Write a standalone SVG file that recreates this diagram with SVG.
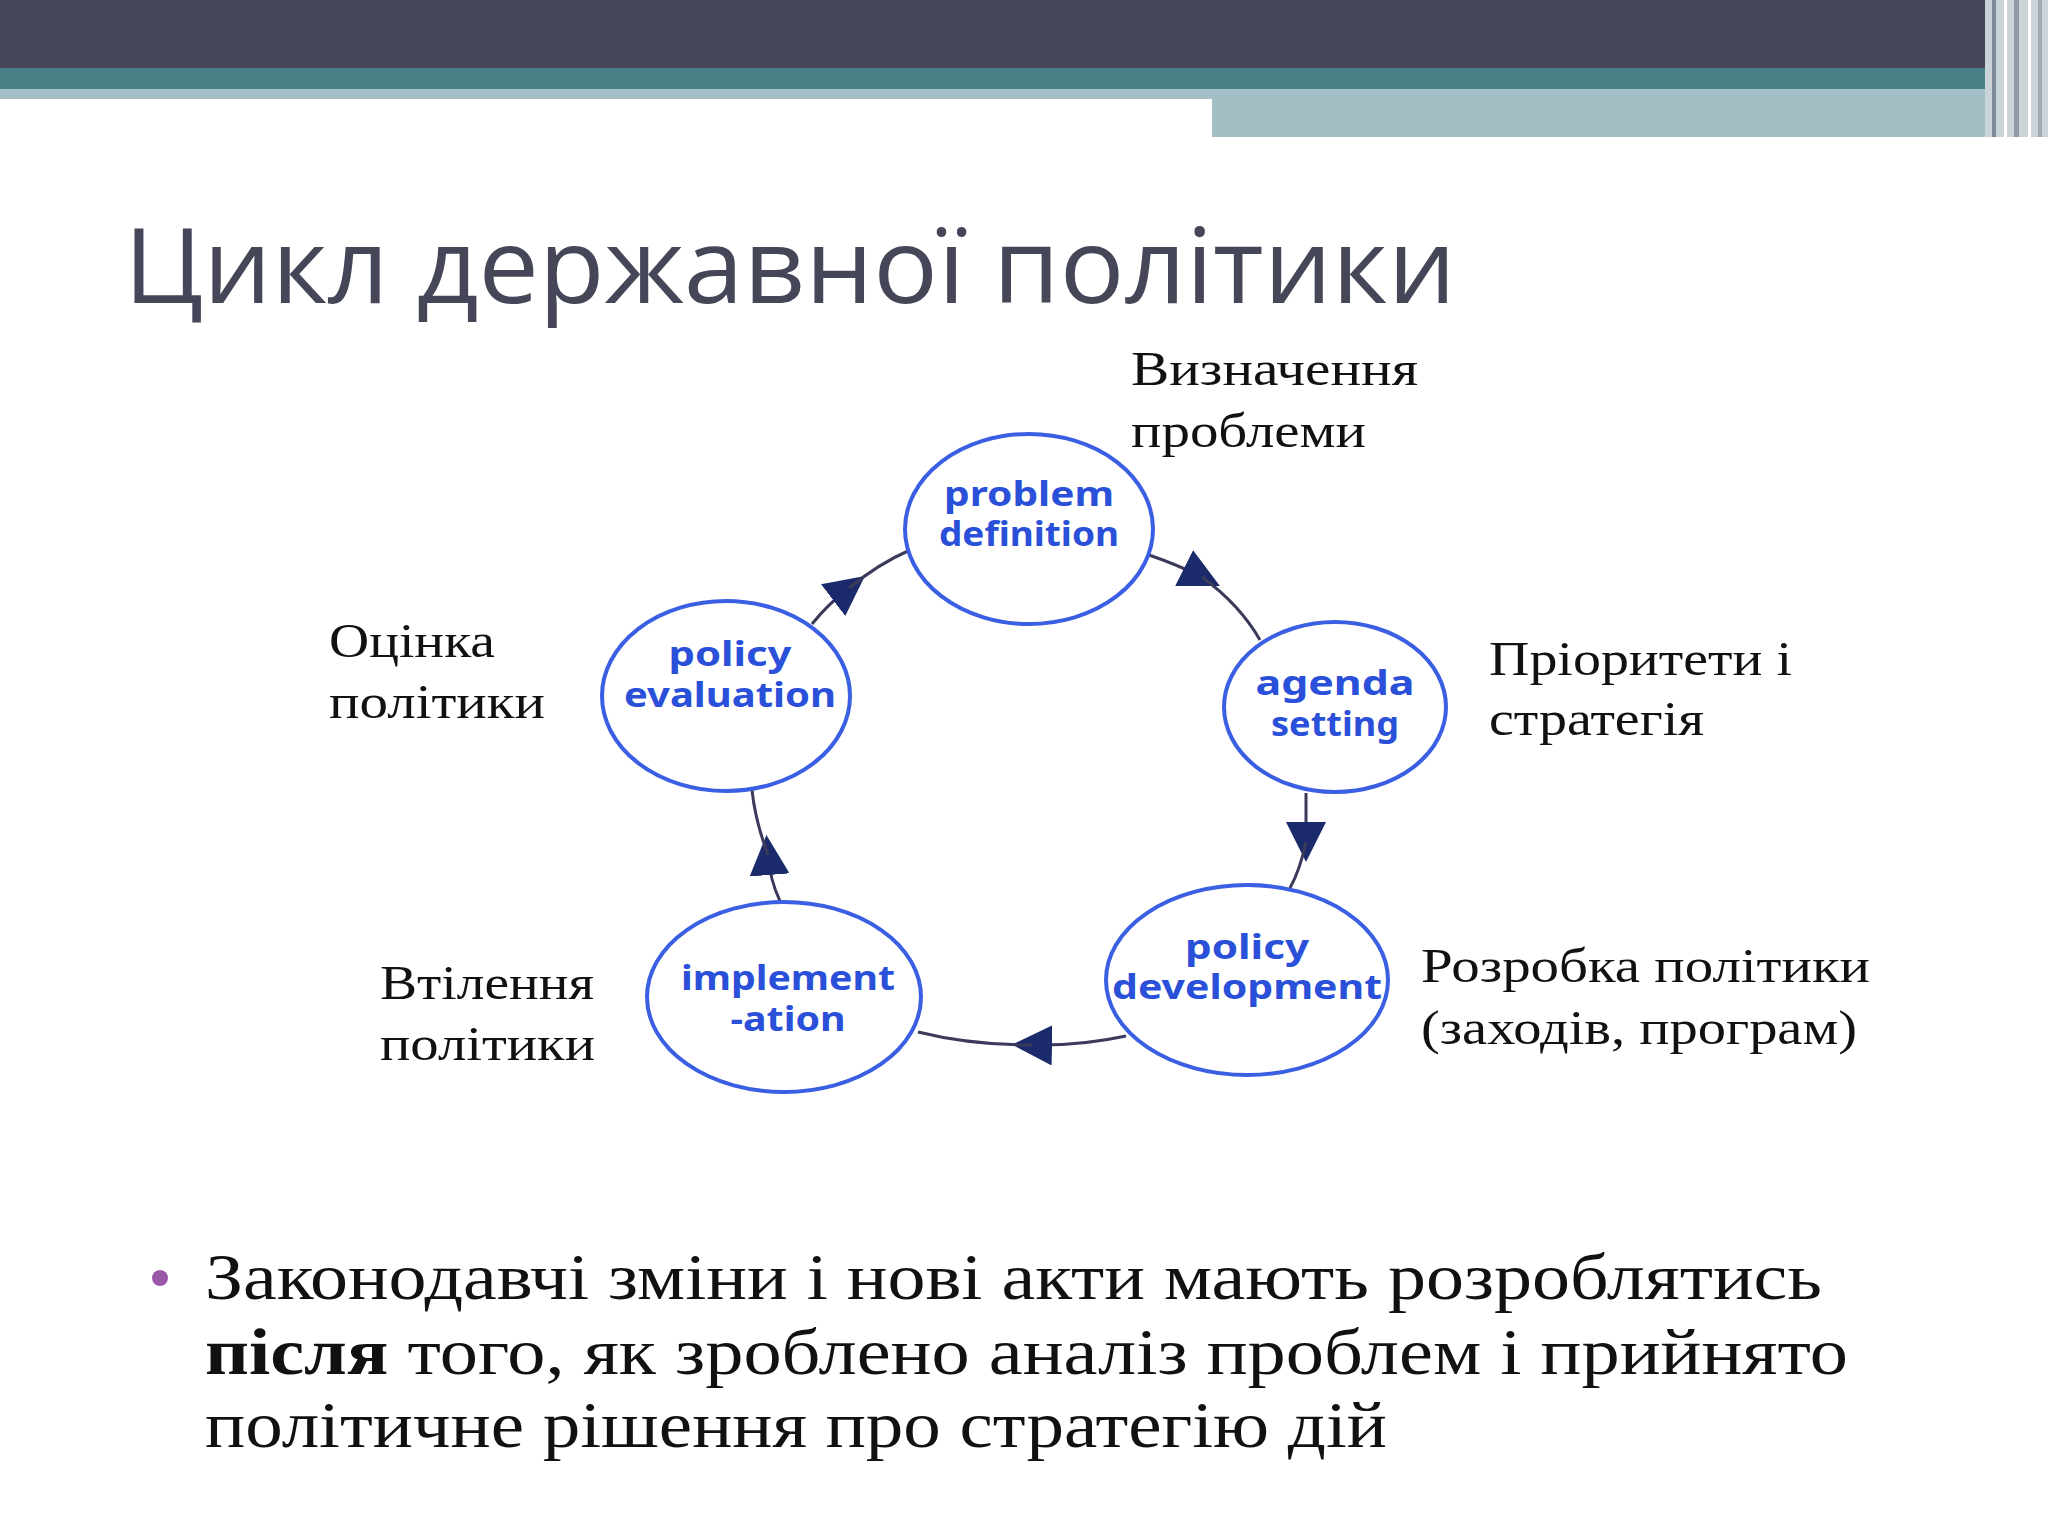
<svg xmlns="http://www.w3.org/2000/svg" width="2048" height="1536" viewBox="0 0 2048 1536">
<style>
.n{fill:#fff;stroke:#3b5fe2;stroke-width:4}
.nt{font-family:"Noto Sans",sans-serif;font-weight:bold;font-size:34px;fill:#2a4fd8;text-anchor:middle}
.lb{font-family:"Liberation Serif",serif;font-size:48px;fill:#111}
.c{fill:none;stroke:#3a3a5a;stroke-width:3}
</style>
<defs>
<marker id="b" viewBox="0 0 10 10" refX="5" refY="5" markerWidth="40" markerHeight="40" markerUnits="userSpaceOnUse" orient="auto"><path d="M0,0 L10,5 L0,10 z" fill="#1a2a6a"/></marker>
</defs>
<rect width="2048" height="1536" fill="#fff"/>
<rect x="0" y="0" width="2048" height="68" fill="#464659"/>
<rect x="0" y="68" width="1985" height="21" fill="#4a8088"/>
<rect x="0" y="89" width="1212" height="10" fill="#a3bfc5"/>
<rect x="1212" y="89" width="773" height="48" fill="#a3bfc5"/>
<rect x="1985" y="0" width="63" height="137" fill="#c9d3d8"/>
<rect x="1992" y="0" width="4" height="137" fill="#7d8a96"/>
<rect x="2004" y="0" width="3" height="137" fill="#fff"/>
<rect x="2014" y="0" width="5" height="137" fill="#8e9aa6"/>
<rect x="2028" y="0" width="3" height="137" fill="#fff"/>
<rect x="2038" y="0" width="4" height="137" fill="#a0abb6"/>
<text x="124" y="303" font-family="Open Sans, sans-serif" font-size="104" fill="#464659" textLength="1332" lengthAdjust="spacingAndGlyphs">Цикл державної політики</text>
<g id="connectors">
<path class="c" d="M1149,555 Q1178,565 1202,577" marker-end="url(#b)"/><path class="c" d="M1202,577 Q1240,605 1260,640"/>
<path class="c" d="M1306,793 L1306,842" marker-end="url(#b)"/><path class="c" d="M1306,842 Q1300,870 1290,888"/>
<path class="c" d="M1126,1036 Q1080,1046 1032,1045" marker-end="url(#b)"/><path class="c" d="M1032,1045 Q970,1045 918,1032"/>
<path class="c" d="M780,901 Q770,880 768,855" marker-end="url(#b)"/><path class="c" d="M768,855 Q755,820 752,790"/>
<path class="c" d="M812,624 Q828,604 849,588" marker-end="url(#b)"/><path class="c" d="M849,588 Q880,563 908,551"/>
</g>
<g id="problem"><ellipse class="n" cx="1029" cy="529" rx="124" ry="95"/><text class="nt" x="1029" y="506" textLength="170" lengthAdjust="spacingAndGlyphs">problem</text><text class="nt" x="1029" y="546" textLength="180" lengthAdjust="spacingAndGlyphs">definition</text></g>
<g id="agenda"><ellipse class="n" cx="1335" cy="707" rx="111" ry="85"/><text class="nt" x="1335" y="695" textLength="159" lengthAdjust="spacingAndGlyphs">agenda</text><text class="nt" x="1335" y="736" textLength="128" lengthAdjust="spacingAndGlyphs">setting</text></g>
<g id="development"><ellipse class="n" cx="1247" cy="980" rx="141" ry="95"/><text class="nt" x="1247" y="959" textLength="124" lengthAdjust="spacingAndGlyphs">policy</text><text class="nt" x="1247" y="999" textLength="270" lengthAdjust="spacingAndGlyphs">development</text></g>
<g id="implementation"><ellipse class="n" cx="784" cy="997" rx="137" ry="95"/><text class="nt" x="788" y="990" textLength="214" lengthAdjust="spacingAndGlyphs">implement</text><text class="nt" x="788" y="1031" textLength="115" lengthAdjust="spacingAndGlyphs">-ation</text></g>
<g id="evaluation"><ellipse class="n" cx="726" cy="696" rx="124" ry="95"/><text class="nt" x="730" y="666" textLength="123" lengthAdjust="spacingAndGlyphs">policy</text><text class="nt" x="730" y="707" textLength="212" lengthAdjust="spacingAndGlyphs">evaluation</text></g>
<text class="lb" x="1131" y="385" textLength="287" lengthAdjust="spacingAndGlyphs">Визначення</text><text class="lb" x="1131" y="447" textLength="235" lengthAdjust="spacingAndGlyphs">проблеми</text>
<text class="lb" x="1489" y="675" textLength="303" lengthAdjust="spacingAndGlyphs">Пріоритети і</text><text class="lb" x="1489" y="735" textLength="215" lengthAdjust="spacingAndGlyphs">стратегія</text>
<text class="lb" x="1421" y="982" textLength="449" lengthAdjust="spacingAndGlyphs">Розробка політики</text><text class="lb" x="1421" y="1044" textLength="436" lengthAdjust="spacingAndGlyphs">(заходів, програм)</text>
<text class="lb" x="380" y="999" textLength="214" lengthAdjust="spacingAndGlyphs">Втілення</text><text class="lb" x="380" y="1060" textLength="215" lengthAdjust="spacingAndGlyphs">політики</text>
<text class="lb" x="329" y="657" textLength="166" lengthAdjust="spacingAndGlyphs">Оцінка</text><text class="lb" x="329" y="718" textLength="216" lengthAdjust="spacingAndGlyphs">політики</text>
<circle cx="160" cy="1278" r="8" fill="#9b57a8"/>
<g font-family="Liberation Serif, serif" font-size="66" fill="#111">
<text x="205" y="1299" textLength="1617" lengthAdjust="spacingAndGlyphs">Законодавчі зміни і нові акти мають розроблятись</text>
<text x="205" y="1374" textLength="1643" lengthAdjust="spacingAndGlyphs"><tspan font-weight="bold">після</tspan> того, як зроблено аналіз проблем і прийнято</text>
<text x="205" y="1447" textLength="1182" lengthAdjust="spacingAndGlyphs">політичне рішення про стратегію дій</text>
</g>
</svg>
